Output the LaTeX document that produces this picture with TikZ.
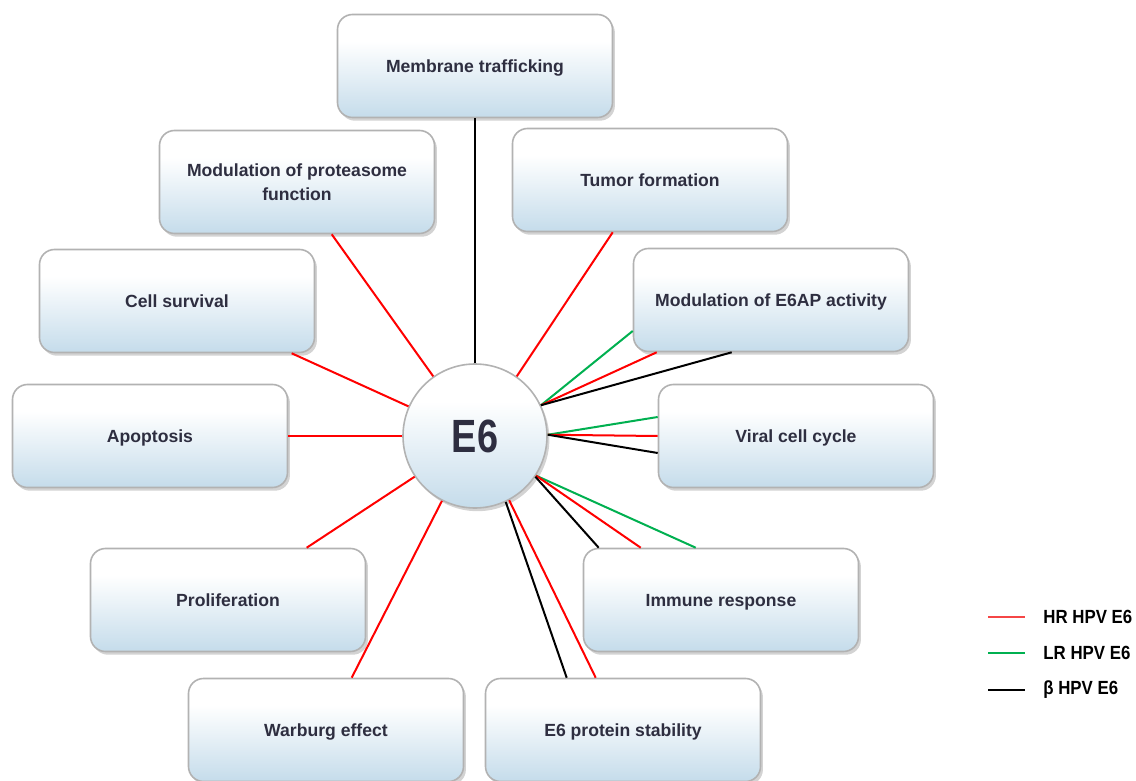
\documentclass[tikz,border=0pt]{standalone}
\usepackage{fontspec}
\setmainfont{Liberation Sans}
\usetikzlibrary{shadows,calc}
\definecolor{boxblue}{RGB}{192,217,233}
\definecolor{txt}{RGB}{46,46,64}
\definecolor{hr}{RGB}{255,0,0}
\definecolor{lr}{RGB}{0,176,80}
\definecolor{legred}{RGB}{245,70,70}
\pgfdeclareverticalshading{boxshade}{100bp}{color(0bp)=(boxblue); color(22bp)=(boxblue); color(62bp)=(white); color(100bp)=(white)}
\begin{document}
\begin{tikzpicture}[x=0.5pt,y=-0.5pt,
  box/.style={draw=gray!60, line width=0.8pt, rounded corners=7.5pt, shading=boxshade,
    minimum width=137.5pt, minimum height=51.5pt, inner sep=0pt, align=center,
    font=\fontsize{8.8}{12}\selectfont\bfseries, text=txt, text depth=0pt,
    drop shadow={shadow xshift=1.2pt, shadow yshift=-1.6pt, opacity=0.35, fill=gray}},
  hub/.style={circle, draw=gray!60, line width=0.8pt, shading=boxshade, minimum size=72pt,
    inner sep=0pt, font=\fontsize{22}{22}\selectfont\bfseries, text=txt,
    drop shadow={shadow xshift=1.2pt, shadow yshift=-1.6pt, opacity=0.35, fill=gray}},
  ln/.style={line width=1pt},
  legtxt/.style={anchor=west, inner sep=0pt, font=\fontsize{8.5}{10}\selectfont\bfseries, text=black}]
\useasboundingbox (0,0) rectangle (1136,781);

% boxes
\node[box] (mem)  at (475,66)  {Membrane trafficking};
\node[box] (prot) at (297,182) {Modulation of proteasome\\function};
\node[box] (tum)  at (650,180) {Tumor formation};
\node[box] (surv) at (177,301) {Cell survival};
\node[box] (eap)  at (771,300) {Modulation of E6AP activity};
\node[box] (apo)  at (150,436) {Apoptosis};
\node[box] (vir)  at (796,436) {Viral cell cycle};
\node[box] (pro)  at (228,600) {Proliferation};
\node[box] (imm)  at (721,600) {Immune response};
\node[box] (war)  at (326,730) {Warburg effect};
\node[box] (stab) at (623,730) {E6 protein stability};

\node[hub] (e6) at (475,436) {\scalebox{0.86}[1.06]{E6}};

% connectors
\draw[ln] (e6.90) -- (mem.south);
\draw[ln,hr] (e6.125) -- ($(prot.south west)+(173,0)$);
\draw[ln,hr] (e6.55) -- ($(tum.south west)+(101,0)$);
\draw[ln,hr] (e6.156) -- ($(surv.south west)+(253,0)$);
\draw[ln,lr] (e6.25) -- ($(eap.west)+(0,31)$);
\draw[ln,hr] (e6.25) -- ($(eap.south west)+(24,0)$);
\draw[ln] (e6.25) -- ($(eap.south west)+(99,0)$);
\draw[ln,lr] (e6.1) -- ($(vir.west)+(0,-19)$);
\draw[ln,hr] (e6.1) -- (vir.west);
\draw[ln] (e6.1) -- ($(vir.west)+(0,17)$);
\draw[ln,lr] (e6.-33) -- ($(imm.north west)+(113,0)$);
\draw[ln,hr] (e6.-33) -- ($(imm.north west)+(58,0)$);
\draw[ln] (e6.-34) -- ($(imm.north west)+(16,0)$);
\draw[ln] (e6.-65) -- ($(stab.north west)+(82,0)$);
\draw[ln,hr] (e6.-62) -- ($(stab.north west)+(111,0)$);
\draw[ln,hr] (e6.180) -- (apo.east);
\draw[ln,hr] (e6.214) -- ($(pro.north west)+(217,0)$);
\draw[ln,hr] (e6.243) -- ($(war.north west)+(164,0)$);

% legend
\coordinate (l1a) at (988,617); \coordinate (l1b) at (1025,617);
\coordinate (l2a) at (988,653); \coordinate (l2b) at (1025,653);
\coordinate (l3a) at (988,690); \coordinate (l3b) at (1025,690);
\draw[ln,legred] (l1a) -- (l1b);
\draw[ln,lr] (l2a) -- (l2b);
\draw[ln,black] (l3a) -- (l3b);
\node[legtxt] (t1) at (1043,617) {\scalebox{0.99}[1.12]{HR HPV E6}};
\node[legtxt] (t2) at (1043,653) {\scalebox{0.99}[1.12]{LR HPV E6}};
\node[legtxt] (t3) at (1043,690) {\scalebox{0.99}[1.12]{β HPV E6}};
\end{tikzpicture}
\end{document}
